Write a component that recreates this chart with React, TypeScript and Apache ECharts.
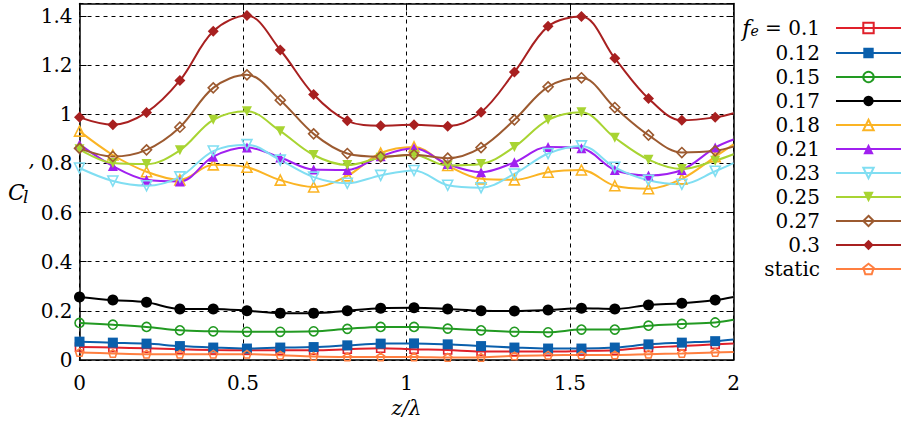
import React, { useEffect, useRef } from "react";
import * as echarts from "echarts";

// z/λ positions of the sampled points (last one: end of curve, no marker)
const zPositions = [0, 0.102, 0.205, 0.307, 0.409, 0.512, 0.614, 0.716, 0.819, 0.921, 1.023, 1.126, 1.228, 1.33, 1.433, 1.535, 1.637, 1.74, 1.842, 1.944, 2.0];
const markerCount = 20;

const fe010 = [0.053, 0.051, 0.048, 0.044, 0.041, 0.040, 0.040, 0.040, 0.044, 0.048, 0.044, 0.041, 0.035, 0.035, 0.035, 0.037, 0.040, 0.051, 0.057, 0.064, 0.068];
const fe012 = [0.075, 0.071, 0.067, 0.057, 0.051, 0.047, 0.051, 0.053, 0.060, 0.067, 0.068, 0.064, 0.057, 0.051, 0.047, 0.047, 0.051, 0.064, 0.071, 0.077, 0.084];
const fe015 = [0.151, 0.144, 0.135, 0.121, 0.117, 0.115, 0.115, 0.117, 0.127, 0.135, 0.135, 0.128, 0.121, 0.115, 0.113, 0.124, 0.124, 0.140, 0.147, 0.153, 0.164];
const fe017 = [0.257, 0.244, 0.235, 0.208, 0.208, 0.201, 0.191, 0.191, 0.201, 0.211, 0.213, 0.208, 0.201, 0.200, 0.204, 0.211, 0.208, 0.224, 0.231, 0.244, 0.257];
const fe018 = [0.931, 0.834, 0.766, 0.733, 0.794, 0.784, 0.732, 0.704, 0.749, 0.842, 0.867, 0.791, 0.737, 0.733, 0.764, 0.773, 0.709, 0.697, 0.737, 0.827, 0.877];
const fe021 = [0.877, 0.789, 0.733, 0.726, 0.827, 0.864, 0.824, 0.775, 0.773, 0.829, 0.861, 0.797, 0.764, 0.804, 0.867, 0.861, 0.773, 0.751, 0.773, 0.864, 0.897];
const fe023 = [0.781, 0.728, 0.709, 0.745, 0.85, 0.876, 0.813, 0.744, 0.719, 0.751, 0.771, 0.711, 0.701, 0.757, 0.84, 0.871, 0.784, 0.731, 0.715, 0.768, 0.801];
const fe025 = [0.857, 0.801, 0.797, 0.853, 0.977, 1.012, 0.931, 0.834, 0.793, 0.823, 0.834, 0.791, 0.797, 0.867, 0.977, 1.008, 0.904, 0.815, 0.777, 0.811, 0.837];
const fe027 = [0.861, 0.828, 0.855, 0.947, 1.107, 1.16, 1.057, 0.92, 0.84, 0.827, 0.835, 0.821, 0.864, 0.977, 1.111, 1.148, 1.027, 0.915, 0.844, 0.851, 0.868];
const fe030 = [0.987, 0.957, 1.007, 1.137, 1.337, 1.401, 1.261, 1.08, 0.973, 0.953, 0.957, 0.951, 1.008, 1.171, 1.357, 1.397, 1.227, 1.064, 0.975, 0.987, 1.004];
const staticCase = [0.031, 0.027, 0.024, 0.024, 0.024, 0.024, 0.020, 0.015, 0.013, 0.013, 0.013, 0.011, 0.011, 0.017, 0.020, 0.021, 0.021, 0.024, 0.027, 0.031, 0.033];

const seriesNames = ["0.1", "0.12", "0.15", "0.17", "0.18", "0.21", "0.23", "0.25", "0.27", "0.3", "static"];
const xTicks = [0, 0.5, 1, 1.5, 2];

const FONT = "DejaVu Serif";
const PENTAGON = "path://M50,0 L97.6,34.5 L79.4,90.5 L20.6,90.5 L2.4,34.5 Z";

type Spec = { values: number[]; color: string; symbol: string; size: number; hollow: boolean; rotate?: number };

const specs: Spec[] = [
  { values: fe010, color: "#e0202a", symbol: "rect", size: 8, hollow: true },
  { values: fe012, color: "#0a5fac", symbol: "rect", size: 10, hollow: false },
  { values: fe015, color: "#229a22", symbol: "circle", size: 9, hollow: true },
  { values: fe017, color: "#000000", symbol: "circle", size: 11, hollow: false },
  { values: fe018, color: "#fbb424", symbol: "triangle", size: 10, hollow: true },
  { values: fe021, color: "#a020f0", symbol: "triangle", size: 10, hollow: false },
  { values: fe023, color: "#80def2", symbol: "triangle", size: 10, hollow: true, rotate: 180 },
  { values: fe025, color: "#a8d432", symbol: "triangle", size: 10, hollow: false, rotate: 180 },
  { values: fe027, color: "#9c5a30", symbol: "diamond", size: 10, hollow: true },
  { values: fe030, color: "#a82020", symbol: "diamond", size: 11, hollow: false },
  { values: staticCase, color: "#ff7f40", symbol: PENTAGON, size: 8, hollow: true },
];

export default function App() {
  const ref = useRef<HTMLDivElement>(null);
  useEffect(() => {
    if (!ref.current) return;
    const chart = echarts.init(ref.current, null, { renderer: "svg" });
    const series = specs.map((s, k) => ({
      name: seriesNames[k],
      type: "line",
      smooth: 0.35,
      symbol: s.symbol,
      symbolSize: s.size,
      symbolRotate: s.rotate || 0,
      symbolKeepAspect: true,
      showAllSymbol: true,
      clip: false,
      lineStyle: { color: s.color, width: 2 },
      itemStyle: s.hollow
        ? { color: "rgba(0,0,0,0)", borderColor: s.color, borderWidth: 1.6 }
        : { color: s.color, borderWidth: 0 },
      emphasis: { disabled: true },
      data: s.values.map((v, i) =>
        i < markerCount ? [zPositions[i], v] : { value: [zPositions[i], v], symbol: "none" }
      ),
    }));

    const axisCommon = {
      axisLine: { show: true, onZero: false, lineStyle: { color: "#000", width: 1.5 } },
      axisTick: { show: true, inside: true, length: 7, lineStyle: { color: "#000", width: 1 } },
    };

    chart.setOption({
      animation: false,
      backgroundColor: "#fff",
      textStyle: { fontFamily: FONT },
      grid: { left: 79.5, right: 168.5, top: 3.5, bottom: 57, containLabel: false },
      xAxis: [
        {
          type: "value", min: xTicks[0], max: xTicks[xTicks.length - 1], interval: 0.5, position: "bottom",
          ...axisCommon,
          axisLabel: { color: "#000", fontFamily: FONT, fontSize: 20, margin: 13 },
          splitLine: { show: true, lineStyle: { color: "#000", width: 1, type: [4, 4] } },
          name: "z/λ", nameLocation: "middle", nameGap: 32,
          nameTextStyle: { color: "#000", fontFamily: FONT, fontSize: 20, fontStyle: "italic" },
        },
        {
          type: "value", min: 0, max: 2, interval: 0.5, position: "top",
          ...axisCommon, axisLabel: { show: false }, splitLine: { show: false },
        },
      ],
      yAxis: [
        {
          type: "value", min: 0, max: 1.45, interval: 0.2, position: "left",
          ...axisCommon,
          axisLabel: { color: "#000", fontFamily: FONT, fontSize: 20, margin: 7, showMaxLabel: false },
          splitLine: { show: true, lineStyle: { color: "#000", width: 1, type: [4, 4] } },
        },
        {
          type: "value", min: 0, max: 1.45, interval: 0.2, position: "right",
          ...axisCommon, axisLabel: { show: false }, splitLine: { show: false },
        },
      ],
      legend: {
        orient: "vertical",
        right: 0,
        top: 14,
        align: "right",
        padding: 0,
        itemWidth: 65,
        itemHeight: 13,
        itemGap: 4,
        selectedMode: false,
        data: seriesNames,
        formatter: (name: string) => (name === "0.1" ? "{i|f}{s|e}{n| = 0.1}" : name),
        textStyle: {
          color: "#000", fontFamily: FONT, fontSize: 20, lineHeight: 20, padding: [0, 11, 0, 0],
          rich: {
            i: { fontFamily: FONT, fontSize: 22, fontStyle: "italic", color: "#000", lineHeight: 20 },
            s: { fontFamily: FONT, fontSize: 14, fontStyle: "italic", color: "#000", lineHeight: 20, verticalAlign: "bottom", padding: [10, 0, 0, 0] },
            n: { fontFamily: FONT, fontSize: 20, color: "#000", lineHeight: 20 },
          },
        },
      },
      graphic: [
        { type: "text", left: 8, top: 181, style: { text: "C", fontFamily: FONT, fontSize: 22, fontStyle: "italic", fill: "#000" } },
        { type: "text", left: 23, top: 188, style: { text: "l", fontFamily: FONT, fontSize: 17, fontStyle: "italic", fill: "#000" } },
        { type: "text", left: 28, top: 162, style: { text: "’", fontFamily: FONT, fontSize: 20, fontStyle: "italic", fill: "#000" } },
      ],
      series,
    });
    return () => chart.dispose();
  }, []);
  return <div ref={ref} style={{ position: "fixed", left: 0, top: 0, width: 902, height: 423 }} />;
}
